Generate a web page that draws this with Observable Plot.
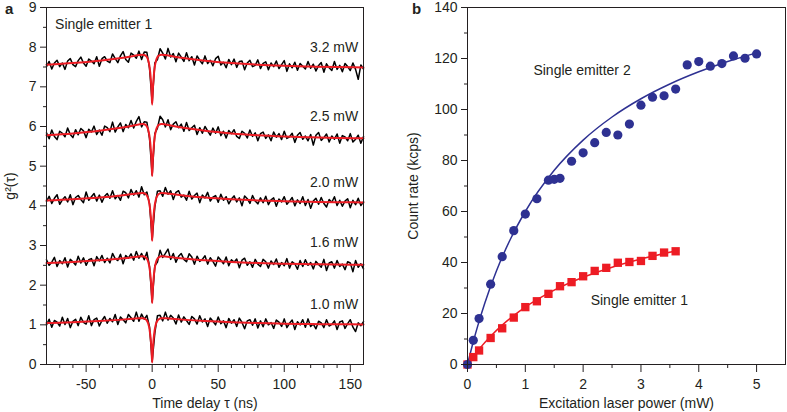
<!DOCTYPE html>
<html><head><meta charset="utf-8">
<script src="https://cdn.jsdelivr.net/npm/d3@7"></script>
<script src="https://cdn.jsdelivr.net/npm/@observablehq/plot@0.6"></script>
<style>
body{margin:0;background:#fff;}
#wrap{position:relative;width:787px;height:412px;display:flex;font-family:"Liberation Sans",Arial,sans-serif;color:#231f20;}
.pl{position:absolute;top:0;font-weight:bold;font-size:15px;line-height:normal;}
</style></head><body>
<div id="wrap"><div id="A"></div><div id="B"></div>
<span class="pl" style="left:5px">a</span><span class="pl" style="left:412px">b</span></div>
<script>
// ---------- Panel a: g2(tau) traces ----------
const tau = [-80,-78,-76,-74,-72,-70,-68,-66,-64,-62,-60,-58,-56,-54,-52,-50,-48,-46,-44,-42,-40,-38,-36,-34,-32,-30,-28,-26,-24,-22,-20,-18,-16,-14,-12,-10,-8,-6,-4,-2,0,2,4,6,8,10,12,14,16,18,20,22,24,26,28,30,32,34,36,38,40,42,44,46,48,50,52,54,56,58,60,62,64,66,68,70,72,74,76,78,80,82,84,86,88,90,92,94,96,98,100,102,104,106,108,110,112,114,116,118,120,122,124,126,128,130,132,134,136,138,140,142,144,146,148,150,152,154,156,158,160];

const g2_32 = [7.51,7.64,7.45,7.60,7.67,7.51,7.60,7.44,7.65,7.71,7.56,7.51,7.66,7.75,7.60,7.52,7.70,7.65,7.58,7.76,7.52,7.71,7.76,7.65,7.61,7.83,7.71,7.61,7.78,7.89,7.69,7.62,7.85,7.80,7.72,7.90,7.69,7.88,7.87,7.47,
6.60,
7.60,7.69,7.96,7.85,7.70,7.97,7.75,7.84,7.63,7.85,7.75,7.64,7.86,7.66,7.76,7.55,7.78,7.67,7.58,7.78,7.59,7.67,7.53,7.71,7.77,7.55,7.62,7.48,7.69,7.56,7.70,7.49,7.64,7.65,7.43,7.60,7.67,7.51,7.54,7.68,
7.46,7.59,7.63,7.43,7.60,7.51,7.65,7.46,7.56,7.66,7.39,7.58,7.48,7.62,7.42,7.59,7.52,7.45,7.64,7.47,7.57,7.40,7.54,7.61,7.37,7.58,7.48,7.41,7.64,7.44,7.54,7.38,7.59,7.51,7.41,7.60,7.44,7.19,7.55,7.45];

const g2_25 = [5.84,5.69,5.91,5.75,5.67,5.88,5.83,5.74,5.96,5.80,5.72,5.92,5.79,5.95,5.89,5.72,5.93,5.86,6.01,5.80,5.91,5.78,6.01,5.97,5.87,6.11,5.86,5.99,6.09,5.87,6.05,5.97,6.15,5.96,6.13,6.25,5.99,6.12,6.11,5.70,
4.78,
5.82,5.96,6.26,6.17,5.99,6.17,5.92,6.06,6.12,5.97,6.06,5.88,6.10,5.90,5.97,6.03,5.80,5.97,5.83,6.00,5.89,5.78,5.96,5.83,5.99,5.77,5.88,5.71,5.90,5.82,5.92,5.75,5.70,5.88,5.83,5.71,5.91,5.75,5.84,5.64,
5.82,5.86,5.70,5.79,5.64,5.86,5.73,5.82,5.67,5.88,5.70,5.74,5.83,5.60,5.78,5.85,5.68,5.76,5.64,5.80,5.53,5.78,5.85,5.65,5.72,5.81,5.61,5.76,5.68,5.81,5.58,5.77,5.74,5.64,5.82,5.61,5.68,5.78,5.58,5.75];

const g2_20 = [4.11,4.24,4.06,4.19,4.28,4.04,4.15,4.23,4.10,4.28,4.03,4.21,4.26,4.16,4.08,4.35,4.14,4.23,4.31,4.12,4.27,4.09,4.24,4.31,4.19,4.38,4.18,4.26,4.14,4.37,4.33,4.20,4.41,4.27,4.38,4.22,4.48,4.28,4.35,4.05,
3.15,
3.97,4.37,4.38,4.24,4.46,4.29,4.38,4.16,4.34,4.38,4.22,4.27,4.14,4.37,4.17,4.26,4.32,4.08,4.27,4.20,4.34,4.12,4.22,4.26,4.09,4.29,4.14,4.23,4.05,4.17,4.25,4.10,4.20,4.00,4.25,4.18,4.06,4.26,4.12,4.05,
4.20,4.08,4.24,4.03,4.15,4.20,3.99,4.17,4.10,4.23,4.04,4.12,4.21,4.00,4.15,4.06,4.23,4.01,4.16,3.94,4.12,4.19,4.04,4.21,4.06,3.97,4.16,4.09,4.23,4.01,4.14,3.99,4.12,4.18,3.95,4.14,4.03,4.19,4.01,4.10];

const g2_16 = [2.64,2.50,2.58,2.70,2.47,2.62,2.54,2.69,2.46,2.65,2.59,2.51,2.73,2.56,2.69,2.50,2.64,2.67,2.49,2.72,2.61,2.75,2.57,2.68,2.56,2.80,2.67,2.62,2.78,2.54,2.75,2.68,2.79,2.63,2.85,2.68,2.80,2.64,2.83,2.47,
1.58,
2.49,2.58,2.88,2.70,2.80,2.91,2.65,2.80,2.58,2.73,2.80,2.65,2.59,2.79,2.71,2.53,2.73,2.60,2.65,2.74,2.53,2.69,2.60,2.48,2.71,2.63,2.54,2.71,2.49,2.64,2.58,2.66,2.44,2.63,2.68,2.50,2.59,2.45,2.65,2.53,
2.47,2.65,2.59,2.43,2.61,2.52,2.66,2.45,2.57,2.49,2.67,2.43,2.59,2.54,2.40,2.62,2.47,2.64,2.50,2.57,2.41,2.60,2.52,2.45,2.65,2.37,2.56,2.59,2.43,2.62,2.47,2.53,2.39,2.59,2.56,2.34,2.62,2.45,2.54,2.41];

const g2_10 = [1.00,1.14,0.94,1.11,1.07,0.97,1.19,1.01,1.16,0.93,1.09,1.14,0.98,1.19,1.06,1.02,1.23,0.98,1.13,1.17,0.97,1.11,1.21,1.04,1.16,1.08,1.26,1.01,1.20,1.13,1.05,1.26,1.18,1.09,1.32,1.09,1.27,1.14,1.24,0.95,
0.08,
0.79,1.23,1.24,1.10,1.32,1.12,1.24,1.17,1.02,1.25,1.07,1.20,1.11,1.01,1.21,1.15,1.02,1.23,1.07,1.15,0.96,1.17,1.09,1.00,1.20,1.03,1.10,0.93,1.16,1.04,1.13,0.96,1.17,1.06,0.90,1.10,1.13,0.99,1.15,0.92,
1.10,0.95,1.15,1.00,1.06,0.91,1.12,1.07,0.96,1.15,0.93,1.04,1.12,0.88,1.08,1.00,1.13,0.94,1.15,0.96,1.02,0.90,1.09,1.05,0.93,1.13,0.97,1.01,1.10,0.88,1.07,1.10,0.91,1.03,1.13,0.94,0.83,1.05,0.98,1.08];

// fitted curves (red)
const tauFit = [-80,-60,-40,-25,-15,-10,-7,-5,-4,-3,-2,-1,-0.5,0,0.5,1,2,3,4,5,7,10,15,25,40,60,80,100,120,140,160];
const fit_32 = [7.558,7.599,7.658,7.720,7.772,7.800,7.808,7.786,7.750,7.670,7.507,7.185,6.920,6.55,6.920,7.185,7.507,7.670,7.750,7.786,7.808,7.800,7.772,7.720,7.658,7.599,7.558,7.531,7.512,7.498,7.490];
const fit_25 = [5.779,5.825,5.892,5.961,6.019,6.052,6.062,6.040,6.002,5.919,5.749,5.413,5.137,4.75,5.137,5.413,5.749,5.919,6.002,6.040,6.062,6.052,6.019,5.961,5.892,5.825,5.779,5.748,5.727,5.712,5.702];
const fit_20 = [4.136,4.167,4.211,4.257,4.296,4.317,4.322,4.298,4.262,4.185,4.029,3.723,3.471,3.12,3.471,3.723,4.029,4.185,4.262,4.298,4.322,4.317,4.296,4.257,4.211,4.167,4.136,4.116,4.101,4.091,4.085];
const fit_16 = [2.560,2.587,2.627,2.668,2.704,2.723,2.726,2.702,2.666,2.590,2.438,2.139,1.893,1.55,1.893,2.139,2.438,2.590,2.666,2.702,2.726,2.723,2.704,2.668,2.627,2.587,2.560,2.541,2.528,2.519,2.513];
const fit_10 = [1.044,1.064,1.094,1.125,1.151,1.165,1.165,1.141,1.106,1.034,0.889,0.606,0.373,0.05,0.373,0.606,0.889,1.034,1.106,1.141,1.165,1.165,1.151,1.125,1.094,1.064,1.044,1.030,1.021,1.014,1.010];

const powerLabels = ["3.2 mW","2.5 mW","2.0 mW","1.6 mW","1.0 mW"];
const xTicksA = [-50,0,50,100,150];
const xMinorA = [-70,-60,-40,-30,-20,-10,10,20,30,40,60,70,80,90,110,120,130,140];
const yTicksA = [0,1,2,3,4,5,6,7,8,9];
const yMinorA = [0.5,1.5,2.5,3.5,4.5,5.5,6.5,7.5,8.5];

// ---------- Panel b: count rate vs power ----------
const power2 = [0,0.1,0.2,0.4,0.6,0.8,1.0,1.2,1.4,1.5,1.6,1.8,2.0,2.2,2.4,2.6,2.8,3.0,3.2,3.4,3.6,3.8,4.0,4.2,4.4,4.6,4.8,5.0];
const count2 = [0,9.5,18,31.5,42.3,52.5,59,65,72.3,72.6,73,79.7,83,87,91,90,94.3,101.7,104.8,105.4,108,117.5,118.8,117,118,121,120.1,121.8];
const power1 = [0,0.1,0.2,0.4,0.6,0.8,1.0,1.2,1.4,1.6,1.8,2.0,2.2,2.4,2.6,2.8,3.0,3.2,3.4,3.6];
const count1 = [0,2.9,5.5,10.4,14.2,18.4,22.5,24.8,27.7,30.7,32.3,34.6,36.7,37.9,39.9,40.2,40.6,42.6,43.9,44.4];
const fitPower2 = [0,0.1,0.2,0.3,0.5,0.75,1,1.5,2,2.5,3,3.5,4,4.5,5];
const fitCount2 = [0,8.92,16.92,24.15,36.67,49.5,60.0,76.15,88.0,97.06,104.21,110.0,114.78,118.8,122.22];
const fitPower1 = [0,0.1,0.2,0.4,0.6,0.8,1,1.5,2,2.5,3,3.6];
const fitCount1 = [0,3.14,6.02,11.1,15.44,19.2,22.5,29.14,34.2,38.17,41.37,44.49];
const xTicksB = [0,1,2,3,4,5];
const xMinorB = [0.5,1.5,2.5,3.5,4.5];
const yTicksB = [0,20,40,60,80,100,120,140];
const yMinorB = [10,30,50,70,90,110,130];

// ---------- build tables ----------
const traces = [["3.2",g2_32],["2.5",g2_25],["2.0",g2_20],["1.6",g2_16],["1.0",g2_10]];
const fits = [["3.2",fit_32],["2.5",fit_25],["2.0",fit_20],["1.6",fit_16],["1.0",fit_10]];
const blackRows = traces.flatMap(([p, v]) => tau.map((t, i) => ({tau: t, g: v[i], p})));
const fitRows = fits.flatMap(([p, v]) => tauFit.map((t, i) => ({tau: t, g: v[i], p})));
const labelRows = powerLabels.map((t, i) => ({t, y: [7.98, 6.25, 4.58, 3.07, 1.52][i]}));

const FONT = '"Liberation Sans", Arial, sans-serif';
const RED = "#ed1c24", BLUE = "#2e3192", INK = "#231f20";
const st = {fontFamily: FONT, fontSize: "14px", color: INK, background: "transparent", overflow: "visible"};
const fmt = d => String(d);

const plotA = Plot.plot({
  width: 400, height: 412, marginLeft: 46, marginRight: 37, marginTop: 7, marginBottom: 48,
  style: st,
  x: {domain: [-80, 160], label: null},
  y: {domain: [0, 9], label: null},
  marks: [
    Plot.line(blackRows, {x: "tau", y: "g", z: "p", stroke: "#000", strokeWidth: 1.5}),
    Plot.line(fitRows, {x: "tau", y: "g", z: "p", stroke: RED, strokeWidth: 2, curve: "monotone-x"}),
    Plot.text(labelRows, {x: () => 156, y: "y", text: "t", textAnchor: "end", fontSize: 14, fill: INK}),
    Plot.text([{t: "Single emitter 1"}], {x: () => -73.5, y: () => 8.56, text: "t", textAnchor: "start", fontSize: 14, fill: INK}),
    Plot.frame({stroke: INK}),
    Plot.axisY({ticks: yTicksA, tickSize: 6, tickPadding: 4, tickFormat: fmt, label: "g²(τ)", labelArrow: "none", labelAnchor: "center", labelOffset: 41}),
    Plot.axisY({ticks: yMinorA, tickSize: 3, tickFormat: () => "", label: null}),
    Plot.axisX({ticks: xTicksA, tickSize: 8, tickPadding: 7, tickFormat: fmt, label: "Time delay τ (ns)", labelArrow: "none", labelAnchor: "center", labelOffset: 43}),
    Plot.axisX({ticks: xMinorA, tickSize: 4, tickFormat: () => "", label: null})
  ]
});
document.getElementById("A").append(plotA);

const ptsB2 = power2.map((x, i) => ({x, y: count2[i]}));
const ptsB1 = power1.map((x, i) => ({x, y: count1[i]}));
const fitB2 = fitPower2.map((x, i) => ({x, y: fitCount2[i]}));
const fitB1 = fitPower1.map((x, i) => ({x, y: fitCount1[i]}));

const plotB = Plot.plot({
  width: 387, height: 412, marginLeft: 67, marginRight: 2, marginTop: 7, marginBottom: 48,
  style: st,
  x: {domain: [0, 5.5], label: null},
  y: {domain: [0, 140], label: null},
  marks: [
    Plot.line(fitB2, {x: "x", y: "y", stroke: BLUE, strokeWidth: 1.5, curve: "monotone-x"}),
    Plot.line(fitB1, {x: "x", y: "y", stroke: RED, strokeWidth: 1.5, curve: "monotone-x"}),
    Plot.dot(ptsB1, {x: "x", y: "y", symbol: "square", r: 4.7, fill: RED}),
    Plot.dot(ptsB2, {x: "x", y: "y", r: 4.6, fill: BLUE}),
    Plot.text([{t: "Single emitter 2"}], {x: () => 1.14, y: () => 115.3, text: "t", textAnchor: "start", fontSize: 14, fill: INK}),
    Plot.text([{t: "Single emitter 1"}], {x: () => 2.13, y: () => 25.1, text: "t", textAnchor: "start", fontSize: 14, fill: INK}),
    Plot.frame({stroke: INK}),
    Plot.axisY({ticks: yTicksB, tickSize: 6, tickPadding: 4, tickFormat: fmt, label: "Count rate (kcps)", labelArrow: "none", labelAnchor: "center", labelOffset: 59}),
    Plot.axisY({ticks: yMinorB, tickSize: 3, tickFormat: () => "", label: null}),
    Plot.axisX({ticks: xTicksB, tickSize: 8, tickPadding: 7, tickFormat: fmt, label: "Excitation laser power (mW)", labelArrow: "none", labelAnchor: "center", labelOffset: 43}),
    Plot.axisX({ticks: xMinorB, tickSize: 4, tickFormat: () => "", label: null})
  ]
});
document.getElementById("B").append(plotB);
</script>
</body></html>
